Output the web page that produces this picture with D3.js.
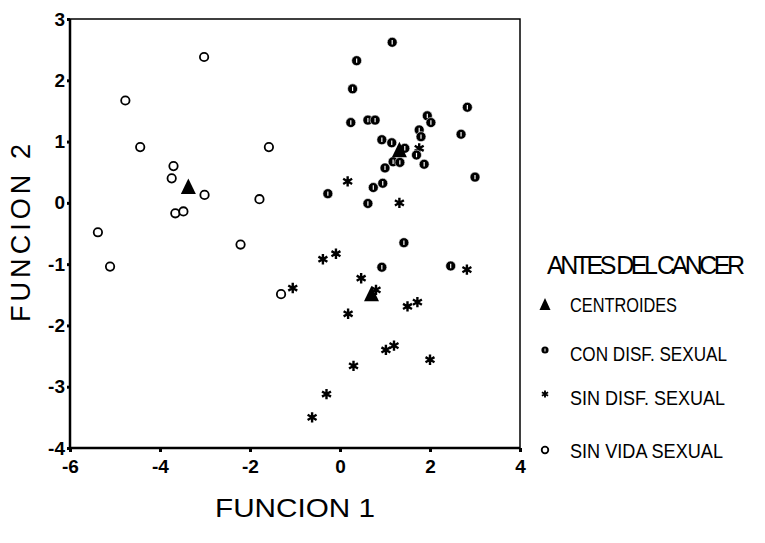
<!DOCTYPE html>
<html>
<head>
<meta charset="utf-8">
<script src="https://cdn.jsdelivr.net/npm/d3@7"></script>
<style>
  body { margin: 0; background: #fff; }
  text { font-family: "Liberation Sans", Arial, sans-serif; fill: #000; }
</style>
</head>
<body>
<div id="chart-area"></div>
<script>
// puntos: [funcion 1, funcion 2]
let conDisf = [
	[1.16, 2.62], [0.37, 2.32], [0.28, 1.86], [0.24, 1.31], [0.62, 1.35], [0.78, 1.35],
	[2.83, 1.56], [1.94, 1.42], [2.02, 1.31], [1.76, 1.19], [1.80, 1.08], [2.69, 1.12],
	[0.93, 1.03], [1.15, 0.98], [1.44, 0.89], [1.70, 0.78], [1.18, 0.67], [1.33, 0.66],
	[1.00, 0.57], [1.87, 0.63], [3.00, 0.42], [0.74, 0.25], [0.95, 0.32], [-0.27, 0.15],
	[0.62, -0.01], [1.42, -0.65], [0.93, -1.05], [2.46, -1.03]
];
let sinDisf = [
	[0.17, 0.35], [1.32, 0.00], [1.76, 0.89], [2.82, -1.09], [0.80, -1.42], [1.50, -1.69],
	[1.72, -1.62], [1.02, -2.40], [1.20, -2.33], [2.00, -2.56], [-0.38, -0.92], [-0.09, -0.83],
	[0.47, -1.23], [-1.05, -1.39], [0.18, -1.81], [0.30, -2.66], [-0.30, -3.12], [-0.62, -3.50]
];
let sinVida = [
	[-3.02, 2.38], [-4.77, 1.67], [-4.44, 0.91], [-3.70, 0.60], [-3.74, 0.40], [-3.01, 0.13],
	[-3.66, -0.17], [-3.48, -0.14], [-5.38, -0.48], [-5.11, -1.04], [-1.58, 0.91], [-1.79, 0.06],
	[-2.21, -0.68], [-1.31, -1.49]
];
let centroides = [[-3.37, 0.25], [1.32, 0.85], [0.70, -1.50]];

let xTicks = [-6, -4, -2, 0, 2, 4];
let yTicks = [-4, -3, -2, -1, 0, 1, 2, 3];
let legendTitle = "ANTES DEL CANCER";
let legendLabels = ["CENTROIDES", "CON DISF. SEXUAL", "SIN DISF. SEXUAL", "SIN VIDA SEXUAL"];

let margin = { top: 19, left: 70 },
	width = 450,
	height = 429;

let svg = d3.select("#chart-area").append("svg")
	.attr("width", 765)
	.attr("height", 543);

let group = svg.append("g")
	.attr("transform", "translate(" + margin.left + "," + margin.top + ")");

let x = d3.scaleLinear().domain([-6, 4]).range([0, width]);
let y = d3.scaleLinear().domain([-4, 3]).range([height, 0]);

// marco
group.append("rect")
	.attr("width", width).attr("height", height)
	.attr("fill", "none").attr("stroke", "#000").attr("stroke-width", 1.5);
group.append("line").attr("x1", 0).attr("x2", 0).attr("y1", 0).attr("y2", height)
	.attr("stroke", "#000").attr("stroke-width", 2.5);
group.append("line").attr("x1", 0).attr("x2", width).attr("y1", height).attr("y2", height)
	.attr("stroke", "#000").attr("stroke-width", 2.5);

let axisBottom = d3.axisBottom(x)
	.tickValues(xTicks)
	.tickSize(4)
	.tickPadding(8)
	.tickFormat((d) => String(d));
let gx = group.append("g")
	.attr("transform", "translate(0," + height + ")")
	.call(axisBottom);

let axisLeft = d3.axisLeft(y)
	.tickValues(yTicks)
	.tickSize(3)
	.tickPadding(2)
	.tickFormat((d) => String(d));
let gy = group.append("g").call(axisLeft);

[gx, gy].forEach((g) => {
	g.select(".domain").remove();
	g.selectAll(".tick line").attr("stroke", "#000").attr("stroke-width", 3);
	g.selectAll(".tick text")
		.attr("font-family", "'Liberation Sans', Arial, sans-serif")
		.attr("font-size", "19px")
		.attr("font-weight", "bold")
		.attr("fill", "#000");
});

// marcadores
let sinVidaMark = (sel, r) => sel.attr("r", r).attr("fill", "#fff").attr("stroke", "#000").attr("stroke-width", 1.8);

group.selectAll(".sinvida").data(sinVida).enter()
	.append("circle")
	.attr("class", "sinvida")
	.attr("cx", (d) => x(d[0]))
	.attr("cy", (d) => y(d[1]))
	.call(sinVidaMark, 4.2);

let star = d3.symbol().type(d3.symbolAsterisk).size(75);
group.selectAll(".sindisf").data(sinDisf).enter()
	.append("path")
	.attr("class", "sindisf")
	.attr("transform", (d) => "translate(" + x(d[0]) + "," + y(d[1]) + ")")
	.attr("d", star)
	.attr("fill", "none").attr("stroke", "#000").attr("stroke-width", 2.4);

let con = group.selectAll(".condisf").data(conDisf).enter()
	.append("g")
	.attr("class", "condisf")
	.attr("transform", (d) => "translate(" + x(d[0]) + "," + y(d[1]) + ")");
con.append("circle").attr("r", 5).attr("fill", "#000").attr("stroke", "#fff").attr("stroke-width", 0.6);
con.append("line").attr("x1", 0).attr("x2", 0).attr("y1", -2.2).attr("y2", 2.2)
	.attr("stroke", "#fff").attr("stroke-width", 1.2);

group.selectAll(".centroide").data(centroides).enter()
	.append("path")
	.attr("class", "centroide")
	.attr("transform", (d) => "translate(" + x(d[0]) + "," + y(d[1]) + ")")
	.attr("d", "M0,-9L7.5,6.5L-7.5,6.5Z")
	.attr("fill", "#000");

// titulos de ejes
svg.append("text")
	.attr("x", 295)
	.attr("y", 517)
	.attr("font-size", "25px")
	.attr("text-anchor", "middle")
	.attr("textLength", 160)
	.attr("lengthAdjust", "spacingAndGlyphs")
	.text("FUNCION 1");

svg.append("text")
	.attr("transform", "translate(30,233) rotate(-90)")
	.attr("font-size", "27px")
	.attr("text-anchor", "middle")
	.attr("textLength", 178)
	.attr("lengthAdjust", "spacing")
	.text("FUNCION 2");

// leyenda
let legend = svg.append("g");
legend.append("text")
	.attr("x", 547).attr("y", 274)
	.attr("font-size", "25px")
	.attr("letter-spacing", "-3.5px")
	.text(legendTitle);

let legendY = [312, 361, 405, 458];
let legendW = [107, 157, 155, 153];
legendLabels.forEach((lab, i) => {
	legend.append("text")
		.attr("x", 570).attr("y", legendY[i])
		.attr("font-size", "20px")
		.attr("textLength", legendW[i])
		.attr("lengthAdjust", "spacingAndGlyphs")
		.text(lab);
});

legend.append("path")
	.attr("transform", "translate(545,305)")
	.attr("d", "M0,-7L5.5,5L-5.5,5Z")
	.attr("fill", "#000");
let lc = legend.append("g").attr("transform", "translate(545,350)");
lc.append("circle").attr("r", 3.6).attr("fill", "#000");
lc.append("line").attr("x1", 0).attr("x2", 0).attr("y1", -1.5).attr("y2", 1.5)
	.attr("stroke", "#fff").attr("stroke-width", 1);
legend.append("path")
	.attr("transform", "translate(545,394)")
	.attr("d", d3.symbol().type(d3.symbolAsterisk).size(35))
	.attr("fill", "none").attr("stroke", "#000").attr("stroke-width", 1.9);
legend.append("circle")
	.attr("cx", 545).attr("cy", 450)
	.call(sinVidaMark, 3.3);
</script>
</body>
</html>
